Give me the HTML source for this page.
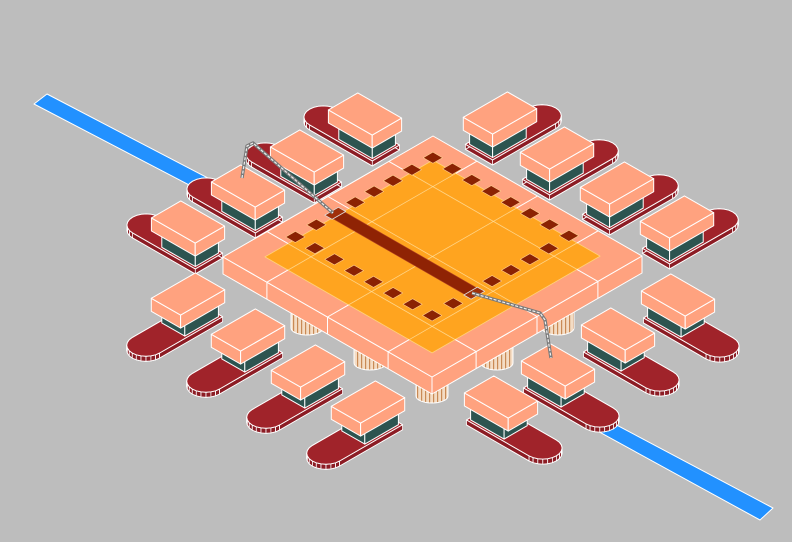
<!DOCTYPE html>
<html><head><meta charset="utf-8"><style>
html,body{margin:0;padding:0;background:#bdbdbd;}
svg{display:block;}
</style></head><body>
<svg id="s" width="792" height="542" viewBox="0 0 792 542" xmlns="http://www.w3.org/2000/svg">
<defs>
<pattern id="st" width="4" height="10" patternUnits="userSpaceOnUse">
<rect width="4" height="10" fill="#f4dcc4"/><rect x="1" width="1.2" height="10" fill="#c98a55"/>
</pattern>
</defs>
<rect width="792" height="542" fill="#bdbdbd"/>
<g id="g"></g>
</svg>
<script>
var out=[];
var ox=223,oy=257;
function P(x,y,h){return [ox+2.1*x+2.09*y, oy-1.21*x+1.2*y+(h||0)];}
function Q(C,x,y,h){return [C[0]+2.1*x+2.09*y, C[1]-1.21*x+1.2*y+(h||0)];}
function pts(a){return a.map(function(p){return p[0].toFixed(1)+','+p[1].toFixed(1);}).join(' ');}
function poly(a,fill,sw,sc){out.push('<polygon points="'+pts(a)+'" fill="'+fill+'" stroke="'+(sc||'#fff')+'" stroke-width="'+(sw==null?1:sw)+'" stroke-linejoin="round"/>');}
function line(a,b,c,w,op){out.push('<line x1="'+a[0].toFixed(1)+'" y1="'+a[1].toFixed(1)+'" x2="'+b[0].toFixed(1)+'" y2="'+b[1].toFixed(1)+'" stroke="'+c+'" stroke-width="'+w+'" opacity="'+(op||1)+'"/>');}
var SAL='#ffa27f',TEAL='#2d5450',RED='#a0232a',RED2='#8c1c24';
function box(C,x0,x1,y0,y1,h0,h1,fill){
 poly([Q(C,x0,y0,h0),Q(C,x0,y1,h0),Q(C,x0,y1,h1),Q(C,x0,y0,h1)],fill);
 poly([Q(C,x0,y1,h0),Q(C,x1,y1,h0),Q(C,x1,y1,h1),Q(C,x0,y1,h1)],fill);
 poly([Q(C,x0,y0,h0),Q(C,x1,y0,h0),Q(C,x1,y1,h0),Q(C,x0,y1,h0)],fill);
}
function map(d,u,v){
 if(d=='-y')return [v,-u]; if(d=='-x')return [-u,v]; if(d=='+x')return [u,v]; return [v,u];
}
function ext(d,u0,u1,v0,v1){
 var c=[map(d,u0,v0),map(d,u1,v0),map(d,u0,v1),map(d,u1,v1)];
 var xs=c.map(function(p){return p[0]}),ys=c.map(function(p){return p[1]});
 return [Math.min.apply(0,xs),Math.max.apply(0,xs),Math.min.apply(0,ys),Math.max.apply(0,ys)];
}
function chip(C,d){
 var sh=[],R=6.5,L=20,i;
 sh.push([-10,-R]);sh.push([L,-R]);
 for(i=1;i<12;i++){var a=-Math.PI/2+Math.PI*i/12;sh.push([L+R*Math.cos(a),R*Math.sin(a)]);}
 sh.push([L,R]);sh.push([-10,R]);
 var top=sh.map(function(p){var m=map(d,p[0],p[1]);return Q(C,m[0],m[1],27);});
 var bot=sh.map(function(p){var m=map(d,p[0],p[1]);return Q(C,m[0],m[1],32);});
 poly(bot,RED2);
 for(i=0;i<sh.length-1;i++){
  poly([top[i],top[i+1],bot[i+1],bot[i]],RED2,0.8);
 }
 poly(top,RED);
 var e=ext(d,-9,7,-5.5,5.5);
 box(C,e[0],e[1],e[2],e[3],13,27,TEAL);
 var b2=ext(d,-10.5,10.5,-7,7);
 box(C,b2[0],b2[1],b2[2],b2[3],0,13,SAL);
}
poly([[47,94],[275,213],[262,223],[34,104]],'#2291ff');
poly([[543,386],[773,508],[760,520],[530,394]],'#2291ff');
var ul=[[365,114],[307,151],[248,186],[188,222]];
var ur=[[500,113],[557,148],[617,183],[677,217]];
var allUp=[];
ul.forEach(function(c){allUp.push([c,'-y']);});
ur.forEach(function(c){allUp.push([c,'+x']);});
allUp.sort(function(a,b){return a[0][1]-b[0][1];});
allUp.forEach(function(c){chip(c[0],c[1]);});
[[307,328],[370,363],[432,396],[497,363],[558,328]].forEach(function(p){
 var r=16;
 out.push('<path d="M'+(p[0]-r)+','+(p[1]-26)+' L'+(p[0]-r)+','+p[1]+' A'+r+',7 0 0 0 '+(p[0]+r)+','+p[1]+' L'+(p[0]+r)+','+(p[1]-26)+' Z" fill="url(#st)" stroke="#fff" stroke-width="1"/>');
});
var T=17;
poly([P(0,0,0),P(0,100,0),P(0,100,T),P(0,0,T)],SAL);
poly([P(0,100,0),P(100,100,0),P(100,100,T),P(0,100,T)],SAL);
poly([P(0,0),P(100,0),P(100,100),P(0,100)],SAL);
poly([P(10,10),P(90,10),P(90,90),P(10,90)],'#ffa41f',0.8,'#ffd27a');
[21,50,79].forEach(function(t){
 line(P(0,t,0),P(0,t,T),'#fff',1);
 line(P(t,100,0),P(t,100,T),'#fff',1);
 line(P(0,t),P(10,t),'#fff',1);line(P(90,t),P(100,t),'#fff',1);
 line(P(t,0),P(t,10),'#fff',1);line(P(t,90),P(t,100),'#fff',1);
 line(P(10,t),P(90,t),'#ffe0a0',0.8,0.8);line(P(t,10),P(t,90),'#ffe0a0',0.8,0.8);
});
function sq(x,y){var s=2.3;poly([P(x-s,y-s),P(x+s,y-s),P(x+s,y+s),P(x-s,y+s)],'#8b2203',0.6,'#ffcf90');}
var i;
for(i=0;i<8;i++){sq(25.5,9+i*9.35);sq(91,9+i*9.3);}
[35.5,54,63,72,81].forEach(function(x){sq(x,9);sq(x,74.5);});
poly([P(42,9),P(47.5,9),P(47.5,75),P(42,75)],'#8f2304',0.6,'#b04020');
poly([P(41.5,7),P(48,7),P(48,10.5),P(41.5,10.5)],'#a0300a',0.8,'#ddd');
poly([P(41.5,73.5),P(48,73.5),P(48,77),P(41.5,77)],'#a0300a',0.8,'#ddd');
function wire(p){var d='M'+p.map(function(q){return q.join(',');}).join(' L');
 out.push('<path d="'+d+'" fill="none" stroke="#7a7a7a" stroke-width="3.4" stroke-linejoin="round"/>');
 out.push('<path d="'+d+'" fill="none" stroke="#eeeeee" stroke-width="1.2" stroke-dasharray="3,1.5" stroke-linejoin="round"/>');}
var ll=[[188,294],[248,330],[308,366],[368,402]];
var lr=[[678,295],[618,329],[558,365],[501,397]];
var allLo=[];
ll.forEach(function(c){allLo.push([c,'-x']);});
lr.forEach(function(c){allLo.push([c,'+y']);});
allLo.sort(function(a,b){return a[0][1]-b[0][1];});
allLo.forEach(function(c){chip(c[0],c[1]);});
wire([[242,178],[247,146],[253,143],[333,213]]);
wire([[472,293],[540,313],[545,320],[551,358]]);
document.getElementById('g').innerHTML=out.join('');
</script>
</body></html>
